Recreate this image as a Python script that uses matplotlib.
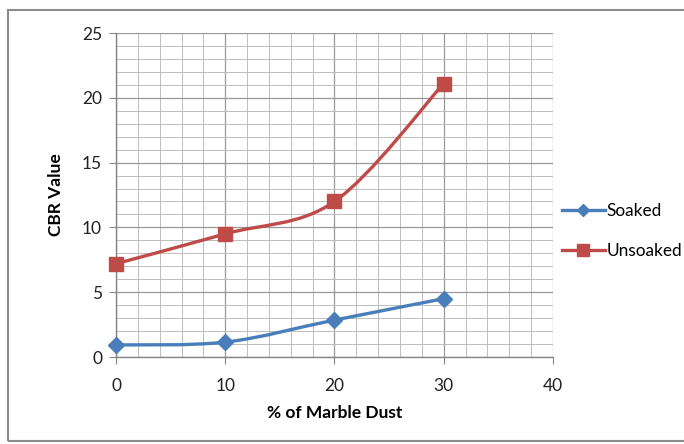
import matplotlib
matplotlib.use("Agg")
import matplotlib.pyplot as plt
from matplotlib.path import Path
from matplotlib.patches import PathPatch, Rectangle
from matplotlib.lines import Line2D
from matplotlib.ticker import MultipleLocator

plt.rcParams['font.family'] = ['Lato', 'DejaVu Sans']

marble_dust = [0, 10, 20, 30]
soaked = [0.93, 1.15, 2.85, 4.5]
unsoaked = [7.2, 9.5, 12.0, 21.1]

series_names = ["Soaked", "Unsoaked"]
blue = "#4A7EBB"
red = "#BE4B48"


def smooth_path(xs, ys):
    """Excel-style smoothed line: cubic Bezier through every point."""
    pts = list(zip(xs, ys))
    n = len(pts)
    verts = [pts[0]]
    codes = [Path.MOVETO]
    for i in range(n - 1):
        p0 = pts[i - 1] if i > 0 else pts[i]
        p1 = pts[i]
        p2 = pts[i + 1]
        p3 = pts[i + 2] if i + 2 < n else pts[i + 1]
        c1 = (p1[0] + (p2[0] - p0[0]) / 6, p1[1] + (p2[1] - p0[1]) / 6)
        c2 = (p2[0] - (p3[0] - p1[0]) / 6, p2[1] - (p3[1] - p1[1]) / 6)
        verts += [c1, c2, p2]
        codes += [Path.CURVE4] * 3
    return Path(verts, codes)


fig = plt.figure(figsize=(6.84, 4.44), dpi=100)
fig.patch.set_facecolor("white")
fig.patches.append(Rectangle((8 / 684, 3 / 444), 1.0, 1 - 13 / 444,
                             transform=fig.transFigure, fill=False,
                             edgecolor="#8C8C8C", linewidth=1.5))

ax = fig.add_axes([116 / 684, 1 - 357 / 444, (553 - 116) / 684, (357 - 33) / 444])
ax.set_xlim(0, 40)
ax.set_ylim(0, 25)
ax.xaxis.set_major_locator(MultipleLocator(10))
ax.xaxis.set_minor_locator(MultipleLocator(2))
ax.yaxis.set_major_locator(MultipleLocator(5))
ax.yaxis.set_minor_locator(MultipleLocator(1))
ax.grid(which="major", color="#999999", linewidth=0.9)
ax.grid(which="minor", color="#BDBDBD", linewidth=0.7)
ax.set_axisbelow(True)
for side in ("top", "right"):
    ax.spines[side].set_visible(False)
for side in ("left", "bottom"):
    ax.spines[side].set_color("#868686")
    ax.spines[side].set_linewidth(1.0)
ax.tick_params(which="major", length=5, color="#868686", labelsize=12.5,
               labelcolor="#222222", pad=5)
ax.tick_params(which="minor", length=0)
ax.tick_params(axis="x", pad=10)

for ys, col, mk, ms in ((soaked, blue, "D", 8.5), (unsoaked, red, "s", 10)):
    ax.add_patch(PathPatch(smooth_path(marble_dust, ys), facecolor="none",
                           edgecolor=col, linewidth=2.4, zorder=3))
    ax.plot(marble_dust, ys, linestyle="none", marker=mk, markersize=ms,
            color=col, markeredgecolor=col, zorder=4, clip_on=False)

ax.set_xlabel("% of Marble Dust", fontsize=12.5, fontweight="bold", labelpad=8)
ax.set_ylabel("CBR Value", fontsize=12.5, fontweight="bold", labelpad=13)

handles = [Line2D([], [], color=blue, linewidth=2.4, marker="D", markersize=6),
           Line2D([], [], color=red, linewidth=2.4, marker="s", markersize=8)]
fig.legend(handles, series_names, loc="center left",
           bbox_to_anchor=(553 / 684, 1 - 231 / 444), frameon=False,
           fontsize=12.4, handlelength=2.5, handletextpad=0.1,
           labelspacing=1.4, borderaxespad=0.1)

fig.savefig("out.png", dpi=100)
